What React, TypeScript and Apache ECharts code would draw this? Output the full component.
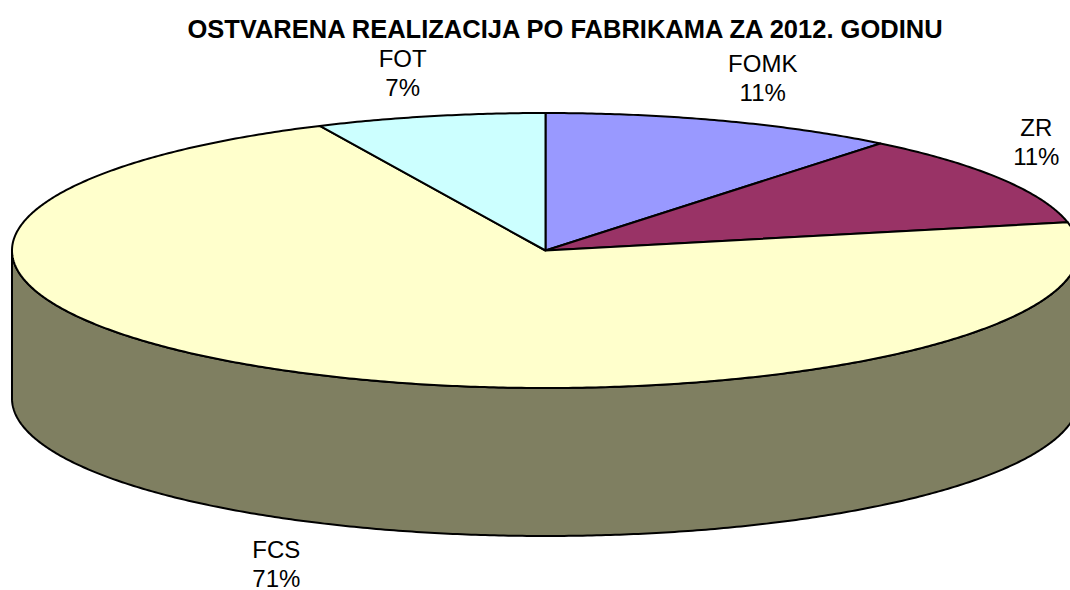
import React, { useEffect, useRef } from 'react';
import * as echarts from 'echarts';

const categories = ['FOMK', 'ZR', 'FCS', 'FOT'];
const shares = [10.8, 10.9, 71.35, 6.95];
const topColors = ['#9999FF', '#993366', '#FFFFCC', '#CCFFFF'];
const sideColors = ['#5C5C99', '#5C1F3D', '#7F7F61', '#7A9999'];
const chartTitle = 'OSTVARENA REALIZACIJA PO FABRIKAMA ZA 2012. GODINU';

const FONT_FAMILY = 'Arial, "Liberation Sans", sans-serif';
const LABEL_SIZE = 24;
const LABEL_LINE = 29;

function measure(text: string, font: string): number {
  const c = document.createElement('canvas');
  const ctx = c.getContext('2d');
  if (!ctx) return text.length * 12;
  ctx.font = font;
  return ctx.measureText(text).width;
}

export default function App() {
  const ref = useRef<HTMLDivElement>(null);

  useEffect(() => {
    document.body.style.margin = '0';
    if (!ref.current) return;
    const chart = echarts.init(ref.current, undefined, { renderer: 'svg' });

    const CX = 545.5;
    const CY = 250.5;
    const RX = 533.5;
    const RY = 137.5;
    const DEPTH = 148;

    const total = shares.reduce((a, b) => a + b, 0);
    const cum: number[] = [0];
    shares.forEach((v) => cum.push(cum[cum.length - 1] + v));

    const pt = (t: number, dz: number): number[] => [
      CX + RX * Math.sin(t),
      CY - RY * Math.cos(t) + dz,
    ];
    const arc = (s: number, e: number, dz: number): number[][] => {
      const out: number[][] = [];
      const n = Math.max(2, Math.ceil(((e - s) * 180) / Math.PI) * 2);
      for (let k = 0; k <= n; k++) out.push(pt(s + ((e - s) * k) / n, dz));
      return out;
    };

    const renderItem = (params: any, api: any) => {
      const i = params.dataIndex;
      const v = api.value(0);
      const a0 = (cum[i] / total) * Math.PI * 2;
      const a1 = a0 + (v / total) * Math.PI * 2;
      const children: any[] = [];
      const stroke = { stroke: '#000', lineWidth: 2, lineJoin: 'round' };

      const s = Math.max(a0, Math.PI / 2);
      const e = Math.min(a1, (Math.PI * 3) / 2);
      if (s < e) {
        const pts = arc(s, e, 0).concat(arc(s, e, DEPTH).reverse());
        children.push({
          type: 'polygon',
          shape: { points: pts },
          style: { fill: sideColors[i], ...stroke },
        });
      }
      children.push({
        type: 'polygon',
        shape: { points: [[CX, CY]].concat(arc(a0, a1, 0)) },
        style: { fill: topColors[i], ...stroke },
      });

      const m = (a0 + a1) / 2;
      const front = Math.cos(m) < 0;
      const p = pt(m, front ? DEPTH : 0);
      const cx = p[0] + 15 * Math.sin(m);
      const cy = p[1] - 15 * Math.cos(m);
      const lines = [categories[i], `${Math.round((v / total) * 100)}%`];
      const font = `${LABEL_SIZE}px ${FONT_FAMILY}`;
      const w = Math.max(...lines.map((l) => measure(l, font)));
      const h = lines.length * LABEL_LINE;
      const left = Math.sin(m) >= 0 ? cx : cx - w;
      const top = Math.cos(m) >= 0 ? cy - h : cy;
      children.push({
        type: 'text',
        x: left + w / 2,
        y: top,
        style: {
          text: lines.join('\n'),
          fill: '#000',
          fontSize: LABEL_SIZE,
          fontFamily: FONT_FAMILY,
          align: 'center',
          verticalAlign: 'top',
          lineHeight: LABEL_LINE,
        },
      });
      return { type: 'group', children };
    };

    chart.setOption({
      animation: false,
      backgroundColor: '#fff',
      graphic: [
        {
          type: 'text',
          x: 565,
          y: 28.5,
          style: {
            text: chartTitle,
            fill: '#000',
            fontSize: 25.5,
            fontWeight: 'bold',
            fontFamily: FONT_FAMILY,
            align: 'center',
            verticalAlign: 'middle',
          },
        },
      ],
      series: [
        {
          type: 'custom',
          coordinateSystem: 'none',
          silent: true,
          renderItem,
          data: shares.map((v, i) => ({ name: categories[i], value: [v] })),
        },
      ],
    });

    return () => chart.dispose();
  }, []);

  return <div ref={ref} style={{ width: 1070, height: 590 }} />;
}
